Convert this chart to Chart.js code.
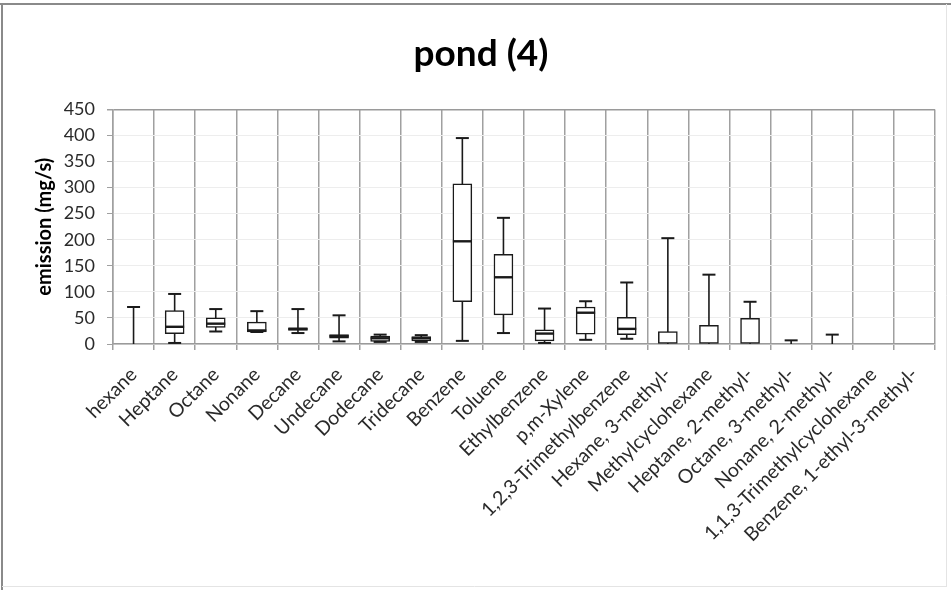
<!DOCTYPE html>
<html>
<head>
<meta charset="utf-8">
<script src="https://cdn.jsdelivr.net/npm/chart.js@4.4.1/dist/chart.umd.min.js"></script>
<style>
  html, body { margin: 0; padding: 0; background: #fff; }
  #wrap { position: relative; width: 951px; height: 590px; }
</style>
</head>
<body>
<div id="wrap"><canvas id="c" width="951" height="590"></canvas></div>
<script>
// ---- Data ----
const categories = ["hexane", "Heptane", "Octane", "Nonane", "Decane", "Undecane", "Dodecane", "Tridecane",
  "Benzene", "Toluene", "Ethylbenzene", "p,m-Xylene", "1,2,3-Trimethylbenzene", "Hexane, 3-methyl-",
  "Methylcyclohexane", "Heptane, 2-methyl-", "Octane, 3-methyl-", "Nonane, 2-methyl-",
  "1,1,3-Trimethylcyclohexane", "Benzene, 1-ethyl-3-methyl-"];
const minValues    = [0, 2, 24, 23, 21, 5, 4, 4, 6, 21, 2, 8, 10, 0, 0, 0, 0, 0, null, null];
const q1Values     = [null, 20, 32, 23, 26, 11, 5, 6, 81, 56, 6, 19, 18, 0, 0, 0, null, null, null, null];
const medianValues = [null, 33, 39, 26, 29, 15, 11, 11, 197, 128, 20, 60, 29, null, null, null, null, null, null, null];
const q3Values     = [null, 64, 50, 42, 31, 18, 15, 14, 307, 172, 27, 71, 51, 24, 36, 49, null, null, null, null];
const maxValues    = [71, 96, 67, 63, 67, 55, 18, 17, 395, 242, 68, 82, 118, 203, 133, 81, 7, 18, null, null];
const yTicks = [0, 50, 100, 150, 200, 250, 300, 350, 400, 450];
const chartTitle = "pond (4)";
const yAxisTitle = "emission (mg/s)";

const boxRanges = q1Values.map((q1, i) => (q1 === null || q3Values[i] === null) ? null : [q1, q3Values[i]]);

const FONT = "Lato, 'DejaVu Sans', sans-serif";

const framePlugin = {
  id: 'frame',
  beforeDraw(chart) {
    const ctx = chart.ctx;
    ctx.save();
    ctx.fillStyle = '#fff';
    ctx.fillRect(0, 0, chart.width, chart.height);
    ctx.strokeStyle = '#8a8a8a';
    ctx.lineWidth = 2;
    ctx.beginPath();
    ctx.moveTo(0, 4); ctx.lineTo(chart.width, 4);
    ctx.moveTo(2, 4); ctx.lineTo(2, chart.height);
    ctx.stroke();
    ctx.strokeStyle = '#e4e4e4';
    ctx.lineWidth = 1;
    ctx.beginPath();
    ctx.moveTo(946.5, 4); ctx.lineTo(946.5, 587);
    ctx.moveTo(2, 586.5); ctx.lineTo(947, 586.5);
    ctx.stroke();
    ctx.restore();
  }
};

const boxPlugin = {
  id: 'boxWhiskers',
  beforeDatasetsDraw(chart) {
    const ctx = chart.ctx, xs = chart.scales.x, ys = chart.scales.y;
    ctx.save();
    ctx.strokeStyle = '#1a1a1a';
    ctx.lineWidth = 1.6;
    categories.forEach((c, i) => {
      if (minValues[i] === null || maxValues[i] === null) return;
      const x = xs.getPixelForValue(i);
      ctx.beginPath();
      ctx.moveTo(x, ys.getPixelForValue(minValues[i]));
      ctx.lineTo(x, ys.getPixelForValue(maxValues[i]));
      ctx.stroke();
    });
    ctx.restore();
  },
  afterDatasetsDraw(chart) {
    const ctx = chart.ctx, xs = chart.scales.x, ys = chart.scales.y;
    ctx.save();
    ctx.strokeStyle = '#1a1a1a';
    categories.forEach((c, i) => {
      const x = xs.getPixelForValue(i);
      if (maxValues[i] !== null) {
        ctx.lineWidth = 2;
        const yMax = ys.getPixelForValue(maxValues[i]);
        ctx.beginPath();
        ctx.moveTo(x - 6.5, yMax); ctx.lineTo(x + 6.5, yMax);
        ctx.stroke();
      }
      if (minValues[i] !== null && boxRanges[i] !== null && minValues[i] > 0) {
        ctx.lineWidth = 2;
        const yMin = ys.getPixelForValue(minValues[i]);
        ctx.beginPath();
        ctx.moveTo(x - 6.5, yMin); ctx.lineTo(x + 6.5, yMin);
        ctx.stroke();
      }
      if (medianValues[i] !== null) {
        ctx.lineWidth = 2.4;
        const yMed = ys.getPixelForValue(medianValues[i]);
        ctx.beginPath();
        ctx.moveTo(x - 9.5, yMed); ctx.lineTo(x + 9.5, yMed);
        ctx.stroke();
      }
    });
    ctx.restore();
  }
};

new Chart(document.getElementById('c'), {
  type: 'bar',
  data: {
    labels: categories,
    datasets: [{
      label: 'box',
      data: boxRanges,
      backgroundColor: '#ffffff',
      borderColor: '#1a1a1a',
      borderWidth: 1.5,
      borderSkipped: false,
      barThickness: 19
    }]
  },
  options: {
    responsive: false,
    animation: false,
    devicePixelRatio: 1,
    layout: { padding: { left: 27, right: 16, top: 0, bottom: 0 } },
    plugins: {
      legend: { display: false },
      tooltip: { enabled: false },
      title: {
        display: true,
        text: chartTitle,
        color: '#000',
        font: { family: FONT, size: 37, weight: 'bold' },
        padding: { top: 32, bottom: 33 }
      }
    },
    scales: {
      x: {
        type: 'category',
        offset: true,
        grid: {
          offset: true,
          color: '#a0a0a0',
          lineWidth: 1.5,
          drawTicks: true,
          tickLength: 6,
          tickColor: '#a0a0a0'
        },
        border: { display: true, color: '#9a9a9a', width: 1.5 },
        ticks: {
          autoSkip: false,
          maxRotation: 45,
          minRotation: 45,
          padding: 13,
          color: '#2a2a2a',
          font: { family: FONT, size: 19.5 }
        },
        afterFit(scale) { scale.height = 246; }
      },
      y: {
        min: 0,
        max: 450,
        afterBuildTicks(scale) { scale.ticks = yTicks.map(v => ({ value: v })); },
        grid: {
          color: (c) => (c.tick && c.tick.value === 450) ? '#9a9a9a' : '#ededed',
          lineWidth: (c) => (c.tick && c.tick.value === 450) ? 1.5 : 1,
          drawTicks: true,
          tickLength: 6,
          tickColor: '#a0a0a0'
        },
        border: { display: true, color: '#a0a0a0', width: 1.5 },
        ticks: {
          padding: 12,
          color: '#2a2a2a',
          font: { family: FONT, size: 18 }
        },
        title: {
          display: true,
          text: yAxisTitle,
          color: '#000',
          font: { family: FONT, size: 20, weight: 'bold' },
          padding: { top: 6, bottom: 0 }
        },
        afterFit(scale) { scale.width = 86; }
      }
    }
  },
  plugins: [framePlugin, boxPlugin]
});
</script>
</body>
</html>
